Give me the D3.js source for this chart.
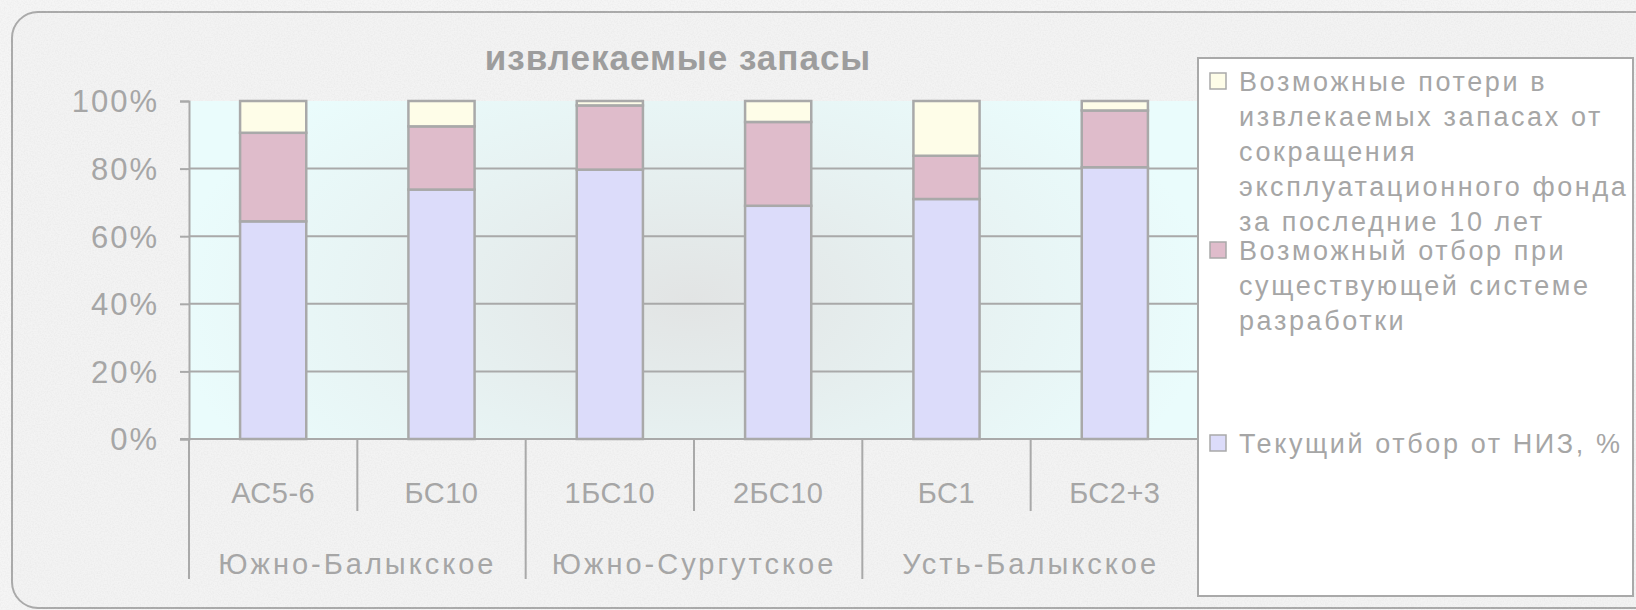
<!DOCTYPE html>
<html lang="ru">

<head>
    <meta charset="UTF-8">
    <title>извлекаемые запасы</title>
    <script src="https://cdn.jsdelivr.net/npm/d3@7"></script>
    <style>
        body { margin: 0; background: #f2f2f2; }
        svg { display: block; }
        text { font-family: "Liberation Sans", Arial, sans-serif; fill: #a6a6a6; }
    </style>
</head>

<body>
    <svg width="1636" height="610" id="mainsvg"></svg>
    <script>
        // data (percent of recoverable reserves)
        const categories = ['АС5-6', 'БС10', '1БС10', '2БС10', 'БС1', 'БС2+3'];
        const groups = ['Южно-Балыкское', 'Южно-Сургутское', 'Усть-Балыкское'];
        const groupSizes = [2, 2, 2];
        const current = [64.4, 73.8, 79.7, 69.0, 71.0, 80.4];
        const possible = [26.2, 18.7, 19.0, 24.8, 12.8, 16.8];
        const losses = [9.4, 7.5, 1.3, 6.2, 16.2, 2.8];
        const yTicks = [0, 20, 40, 60, 80, 100];
        const yTickLabels = ['0%', '20%', '40%', '60%', '80%', '100%'];
        const seriesKeys = ['current', 'possible', 'losses'];
        const seriesColors = ['#dcdcfa', '#dfbccb', '#fefde8'];
        const legendLines = [
            ['Возможные потери в', 'извлекаемых запасах от', 'сокращения', 'эксплуатационного фонда', 'за последние 10 лет'],
            ['Возможный отбор при', 'существующей системе', 'разработки'],
            ['Текущий отбор от НИЗ, %']
        ];
        const legendKeys = ['losses', 'possible', 'current'];
        const title = 'извлекаемые запасы';

        const svg = d3.select('#mainsvg');
        const width = +svg.attr('width');
        const height = +svg.attr('height');
        const plot = { left: 189, right: 1199, top: 101, bottom: 439 };
        const grey = '#a9a9a9';

        const defs = svg.append('defs');
        const noise = defs.append('filter').attr('id', 'noise')
            .attr('x', 0).attr('y', 0).attr('width', '100%').attr('height', '100%');
        noise.append('feTurbulence').attr('type', 'fractalNoise')
            .attr('baseFrequency', 0.7).attr('numOctaves', 2).attr('seed', 3);
        noise.append('feColorMatrix').attr('type', 'matrix')
            .attr('values', '0 0 0 0 0.6  0 0 0 0 0.6  0 0 0 0 0.6  0 0 0 -1.6 1.05');

        const grad = defs.append('radialGradient').attr('id', 'plotbg')
            .attr('gradientUnits', 'userSpaceOnUse')
            .attr('cx', 690).attr('cy', 300).attr('r', 520)
            .attr('gradientTransform', 'translate(690,300) scale(1,0.55) translate(-690,-300)');
        grad.append('stop').attr('offset', 0).attr('stop-color', '#e2e4e4');
        grad.append('stop').attr('offset', 0.55).attr('stop-color', '#e7f2f2');
        grad.append('stop').attr('offset', 1).attr('stop-color', '#eafcfc');

        // page background and rounded frame
        svg.append('rect').attr('width', width).attr('height', height).attr('fill', '#f5f5f5');
        svg.append('rect').attr('x', 12).attr('y', 12).attr('width', 1650).attr('height', 596)
            .attr('rx', 26).attr('fill', '#f3f3f3').attr('stroke', '#a8a8a8').attr('stroke-width', 2);
        svg.append('rect').attr('width', width).attr('height', height)
            .attr('filter', 'url(#noise)').attr('opacity', 0.22);

        // title
        svg.append('text').attr('x', 678).attr('y', 70)
            .attr('text-anchor', 'middle').attr('font-size', 35).attr('font-weight', 'bold')
            .attr('letter-spacing', 1).style('fill', '#9d9d9d')
            .text(title);

        const data = categories.map((c, i) => ({
            cat: c, current: current[i], possible: possible[i], losses: losses[i]
        }));
        const stack = d3.stack().keys(seriesKeys)(data);

        const x = d3.scaleBand().domain(categories)
            .range([plot.left, plot.right]).paddingInner(0.607).paddingOuter(0.3035);
        const y = d3.scaleLinear().domain([0, 100]).range([plot.bottom, plot.top]);
        const color = d3.scaleOrdinal().domain(seriesKeys).range(seriesColors);

        // plot area
        svg.append('rect').attr('x', plot.left).attr('y', plot.top)
            .attr('width', plot.right - plot.left).attr('height', plot.bottom - plot.top)
            .attr('fill', 'url(#plotbg)');

        // gridlines
        svg.append('g').selectAll('line').data(yTicks.filter(d => d > 0 && d < 100)).join('line')
            .attr('x1', plot.left).attr('x2', plot.right)
            .attr('y1', d => y(d)).attr('y2', d => y(d))
            .attr('stroke', grey).attr('stroke-width', 2);

        // y axis
        const yAxis = svg.append('g').attr('transform', `translate(${plot.left},0)`)
            .call(d3.axisLeft(y).tickValues(yTicks).tickSize(9).tickPadding(21)
                .tickFormat((d, i) => yTickLabels[i]));
        yAxis.select('.domain').attr('stroke', grey).attr('stroke-width', 2);
        yAxis.selectAll('.tick line').attr('stroke', grey).attr('stroke-width', 2);
        yAxis.selectAll('.tick text').attr('font-size', 31).attr('letter-spacing', 2)
            .attr('font-family', null).attr('fill', null).attr('dy', '0.35em');

        // bars
        svg.append('g').selectAll('g').data(stack).join('g')
            .attr('fill', d => color(d.key))
            .selectAll('rect').data(d => d).join('rect')
            .attr('x', d => x(d.data.cat))
            .attr('y', d => y(d[1]))
            .attr('width', x.bandwidth())
            .attr('height', d => y(d[0]) - y(d[1]))
            .attr('stroke', grey).attr('stroke-width', 2.5);

        // category axis
        svg.append('line').attr('x1', plot.left - 9).attr('x2', plot.right)
            .attr('y1', plot.bottom).attr('y2', plot.bottom)
            .attr('stroke', grey).attr('stroke-width', 2);
        const step = x.step();
        let starts = [0];
        groupSizes.forEach((n, i) => starts.push(starts[i] + n));
        categories.forEach((c, i) => {
            if (i === 0 || starts.includes(i)) return;
            svg.append('line').attr('x1', plot.left + i * step).attr('x2', plot.left + i * step)
                .attr('y1', plot.bottom).attr('y2', 511).attr('stroke', grey).attr('stroke-width', 2);
        });
        starts.forEach(s => {
            svg.append('line').attr('x1', plot.left + s * step).attr('x2', plot.left + s * step)
                .attr('y1', plot.bottom).attr('y2', 579).attr('stroke', grey).attr('stroke-width', 2);
        });
        svg.append('g').selectAll('text').data(categories).join('text')
            .attr('x', d => x(d) + x.bandwidth() / 2).attr('y', 503)
            .attr('text-anchor', 'middle').attr('font-size', 29).attr('letter-spacing', 0.5)
            .text(d => d);
        svg.append('g').selectAll('text').data(groups).join('text')
            .attr('x', (d, i) => plot.left + (starts[i] + groupSizes[i] / 2) * step).attr('y', 574)
            .attr('text-anchor', 'middle').attr('font-size', 29).attr('letter-spacing', 3)
            .text(d => d);

        // legend
        svg.append('rect').attr('x', 1198).attr('y', 58).attr('width', 435).attr('height', 538)
            .attr('fill', '#ffffff').attr('stroke', grey).attr('stroke-width', 2);
        const legendTop = [81, 250, 443];
        const lineH = 35;
        legendKeys.forEach((k, i) => {
            svg.append('rect').attr('x', 1210).attr('y', legendTop[i] - 8).attr('width', 16).attr('height', 16)
                .attr('fill', color(k)).attr('stroke', grey).attr('stroke-width', 1.5);
            svg.append('g').selectAll('text').data(legendLines[i]).join('text')
                .attr('x', 1239).attr('y', (d, j) => legendTop[i] + j * lineH + 10)
                .attr('font-size', 27).attr('letter-spacing', 2.6)
                .text(d => d);
        });
    </script>
</body>

</html>
